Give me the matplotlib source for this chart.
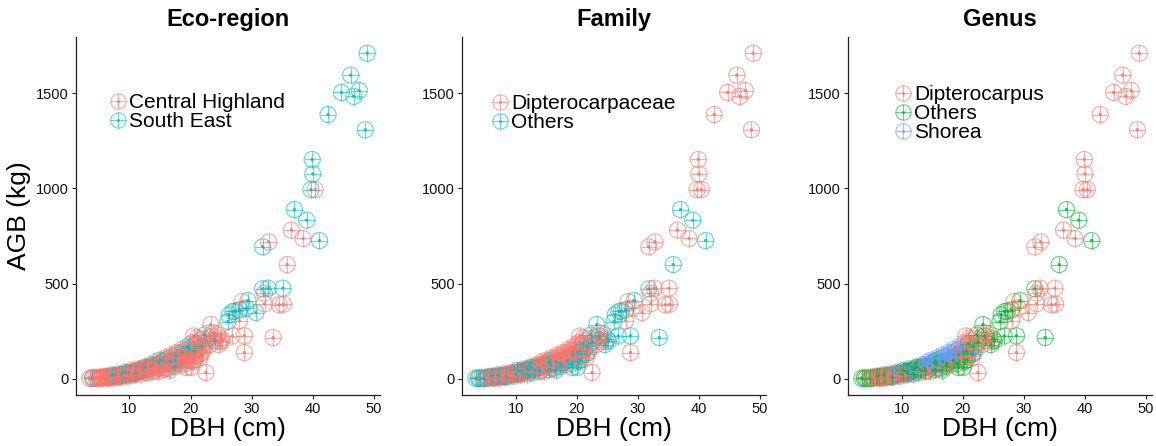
import numpy as np
import matplotlib.pyplot as plt
from matplotlib.lines import Line2D

plt.rcParams['font.family'] = ['Liberation Sans', 'DejaVu Sans']

# DBH (cm), AGB (kg), eco-region code (C/S) and genus code (D/O/S) per tree
dbh = [3.5, 3.9, 4.2, 4.6, 5.0, 5.3, 5.6, 5.9, 6.1, 6.3, 6.6, 6.8, 7.0, 7.2, 7.4,
       7.6, 7.8, 8.0, 8.2, 8.4, 8.6, 8.8, 9.0, 9.2, 9.4, 9.6, 9.8, 10.0, 10.2, 10.4,
       10.6, 10.8, 11.0, 11.2, 11.4, 11.6, 11.8, 12.0, 12.2, 12.4, 12.6, 12.8, 13.0, 13.2, 13.4,
       13.6, 13.8, 14.0, 14.2, 14.4, 14.5, 14.7, 14.9, 15.1, 15.3, 15.5, 15.6, 15.8, 16.0, 16.1,
       16.3, 16.5, 16.7, 16.9, 17.0, 17.2, 17.4, 17.6, 17.8, 18.0, 18.1, 18.3, 18.5, 18.7, 18.9,
       19.0, 19.2, 19.4, 19.6, 19.8, 20.0, 20.1, 20.2, 20.4, 20.5, 20.6, 20.8, 21.0, 21.2, 21.4,
       21.6, 21.8, 22.0, 22.2, 22.5, 23.0, 23.2, 23.6, 24.0, 24.4, 24.8, 25.0,
       5.5, 6.9, 8.3, 9.1, 10.9, 12.3, 13.1, 14.8, 16.2, 17.5, 18.8, 19.7,
       22.5, 23.3, 26.8, 26.1, 26.3, 26.9, 27.3, 28.0, 28.0, 28.4, 28.8, 28.8, 29.1, 29.4,
       30.7, 31.8, 32.1, 32.1, 32.7, 33.5, 34.5, 35.1, 35.2, 35.8, 31.8, 32.8, 36.5, 38.4,
       37.0, 39.0, 41.1, 39.7, 40.4, 40.0, 39.9, 42.5, 48.6, 44.7, 46.7, 47.6, 46.2, 48.9,
       4.0, 4.8, 5.2, 6.0, 6.5, 7.1, 7.5, 8.1, 8.5, 9.3, 9.7, 10.3, 10.7, 11.3, 11.9,
       12.5, 12.9, 13.5, 13.9, 14.3, 14.6, 15.0, 15.4, 15.9, 16.4, 16.8, 17.3, 17.7, 18.2, 18.6,
       19.1, 19.5, 19.9, 20.3, 20.7, 21.1, 21.5, 22.3, 23.8, 24.6, 25.2, 21.9, 19.3, 16.6]
agb = [2, 3, 3, 4, 5, 6, 7, 8, 6, 10, 9, 12, 8, 14, 11,
       16, 13, 18, 15, 20, 17, 23, 19, 26, 22, 29, 24, 32, 27, 35,
       30, 38, 33, 42, 36, 45, 40, 50, 44, 55, 47, 58, 52, 62, 56,
       66, 60, 71, 64, 48, 76, 68, 82, 72, 87, 60, 94, 77, 100, 58,
       84, 108, 90, 72, 115, 96, 80, 122, 104, 88, 132, 112, 95, 140, 120,
       102, 150, 128, 110, 160, 137, 60, 90, 172, 225, 145, 118, 185, 155, 200,
       130, 170, 210, 160, 190, 215, 180, 225, 200, 230, 195, 210,
       4, 7, 12, 18, 28, 35, 45, 58, 75, 95, 115, 135,
       33, 285, 225, 301, 336, 354, 355, 305, 362, 406, 138, 226, 371, 411,
       348, 473, 394, 450, 476, 217, 389, 476, 392, 600, 693, 719, 781, 737,
       889, 833, 726, 994, 994, 1076, 1152, 1388, 1308, 1504, 1483, 1514, 1595, 1710,
       8, 1, 10, 14, 3, 20, 5, 26, 9, 34, 14, 44, 20, 52, 25,
       62, 32, 74, 40, 88, 38, 98, 48, 110, 55, 125, 65, 138, 75, 155,
       80, 170, 95, 190, 100, 215, 110, 230, 240, 180, 200, 140, 60, 45]
region = list("CSCCCCCCCCCCCCC"
              "SCCCCCSCCCCCSCC"
              "CCCSCCCCSCCCCCC"
              "SCCCCCCSCCCSCCC"
              "CCSCCCCSCCCCCSC"
              "CCCCSCCCCCSCCCC"
              "CSCCCCCCSCCC"
              "CCCCSCCCCSCC"
              "CCCSSSSCSCCCSS"
              "SSCCSCCSCCSCCC"
              "SSSSCSSSSSSSSS"
              "CCCCCSCCCSCCCCC"
              "SCCCCCSCCCCSCCC"
              "CSCCCCCSCCCCCC")
genus = list("OOODDODDDODDODO"
             "DDSDODSDODSODOS"
             "DOSODOSOOOSDOSD"
             "SOSDDSOSDOSOOSD"
             "SSODSSOSSDSSOSD"
             "SDODSOOODDODODD"
             "OODDODDODDDO"
             "DDDDOSOSSSSS"
             "DOOOOOODODDODO"
             "DODDDODDDODDDD"
             "OOODDDDDDDDDDD"
             "DODODODDOSDODSO"
             "ODSOSDSOSDSOSDS"
             "OSDDODDODOOSOO")
family = ['Others' if g == 'O' else 'Dipterocarpaceae' for g in genus]
region_lab = ['Central Highland' if r == 'C' else 'South East' for r in region]
genus_names = {'D': 'Dipterocarpus', 'O': 'Others', 'S': 'Shorea'}
genus_lab = [genus_names[g] for g in genus]

panels = [
    ('Eco-region', region_lab, ['Central Highland', 'South East'], ['#F8766D', '#00BFC4'], (0.106, 0.844)),
    ('Family', family, ['Dipterocarpaceae', 'Others'], ['#F8766D', '#00BFC4'], (0.093, 0.84)),
    ('Genus', genus_lab, ['Dipterocarpus', 'Others', 'Shorea'], ['#F8766D', '#00BA38', '#619CFF'], (0.15, 0.865)),
]

fig = plt.figure(figsize=(11.56, 4.46), dpi=100)
lefts = [0.0657, 0.3997, 0.7336]
width = 0.263
x = np.array(dbh)
y = np.array(agb)

for i, (title, groups, levels, cols, legpos) in enumerate(panels):
    ax = fig.add_axes([lefts[i], 0.1143, width, 0.8027])
    cmap = dict(zip(levels, cols))
    c = [cmap[g] for g in groups]
    ax.scatter(x, y, s=135, facecolors='none', edgecolors=c, linewidths=0.85, alpha=0.6)
    ax.scatter(x, y, s=135, marker='+', c=c, linewidths=0.85, alpha=0.6)
    ax.scatter(x, y, s=6, c=c, alpha=0.85, linewidths=0)

    ax.set_xlim(1.24, 51.0)
    ax.set_ylim(-85, 1795)
    ax.set_xticks([10, 20, 30, 40, 50])
    ax.set_yticks([0, 500, 1000, 1500])
    for s in ['top', 'right']:
        ax.spines[s].set_visible(False)
    for s in ['left', 'bottom']:
        ax.spines[s].set_linewidth(0.9)
        ax.spines[s].set_color('#222222')
    ax.tick_params(length=3, width=0.8, labelsize=10.5, colors='#222222', labelcolor='#111111', pad=2)
    ax.set_title(title, fontsize=17, fontweight='bold', pad=8)
    ax.set_xlabel('DBH (cm)', fontsize=19, labelpad=1)
    if i == 0:
        ax.set_ylabel('AGB (kg)', fontsize=19, labelpad=4)

    handles = []
    for col in cols:
        h1 = Line2D([], [], ls='none', marker='o', ms=11, mfc='none', mec=col, mew=0.8, alpha=0.6)
        h2 = Line2D([], [], ls='none', marker='+', ms=11, mec=col, mew=0.8, alpha=0.6)
        h3 = Line2D([], [], ls='none', marker='o', ms=2.2, mfc=col, mec='none', alpha=0.8)
        handles.append((h1, h2, h3))
    ax.legend(handles, levels, loc='upper left', bbox_to_anchor=legpos, frameon=False,
              fontsize=15, handlelength=0.9, handletextpad=0.1, labelspacing=0.0,
              borderpad=0, borderaxespad=0)

fig.savefig('out.png', dpi=100)
